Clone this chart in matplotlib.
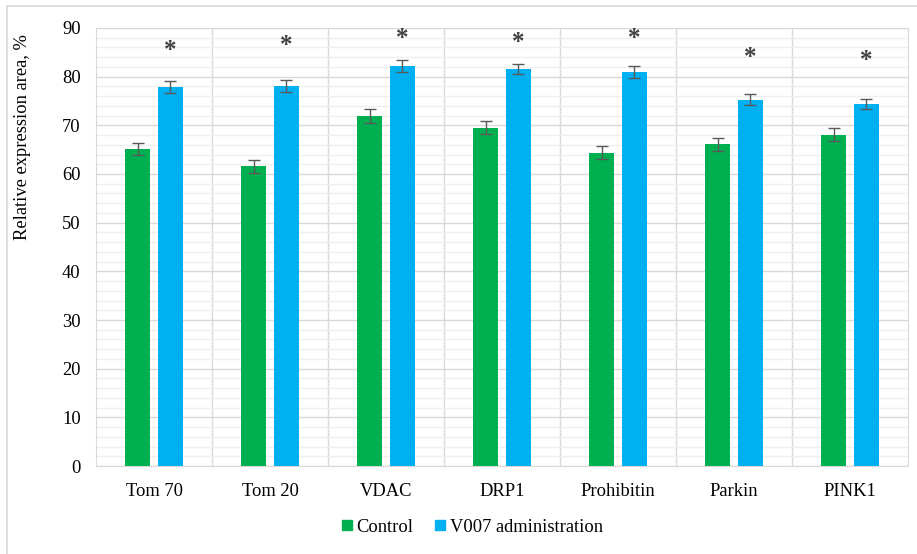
import numpy as np
import matplotlib.pyplot as plt
from matplotlib.lines import Line2D

plt.rcParams['font.family'] = ['Liberation Serif', 'DejaVu Serif']

# Данные
categories = ['Tom 70', 'Tom 20', 'VDAC', 'DRP1', 'Prohibitin', 'Parkin', 'PINK1']
control = [65.1, 61.6, 71.9, 69.5, 64.4, 66.1, 68.1]
control_err = [1.3, 1.3, 1.4, 1.3, 1.3, 1.3, 1.3]
v007 = [77.9, 78.1, 82.2, 81.6, 80.9, 75.3, 74.4]
v007_err = [1.2, 1.2, 1.3, 1.1, 1.2, 1.2, 1.1]
star_y = [85.3, 86.3, 87.8, 87.0, 87.8, 84.0, 83.3]

green = '#00b050'
blue = '#00b0f0'
grid_major = '#d9d9d9'
grid_minor = '#efefef'
fs = 13.3

fig = plt.figure(figsize=(9.17, 5.54), dpi=100)
ax = fig.add_axes([0.1047, 0.1588, 0.8855, 0.7907])

x = np.arange(len(categories))
w = 0.22
off = 0.142

ax.bar(x - off, control, width=w, color=green, zorder=3, label='Control')
ax.bar(x + off, v007, width=w, color=blue, zorder=3, label='V007 administration')
ax.errorbar(x - off, control, yerr=control_err, fmt='none', ecolor='#595959',
            elinewidth=1, capsize=4, capthick=1, zorder=4)
ax.errorbar(x + off, v007, yerr=v007_err, fmt='none', ecolor='#595959',
            elinewidth=1, capsize=4, capthick=1, zorder=4)

for xi, sy in zip(x, star_y):
    ax.text(xi + off, sy, '*', ha='center', va='center', fontsize=18,
            color='#404040', fontweight='bold')

ax.set_xlim(-0.5, len(categories) - 0.5)
ax.set_ylim(0, 90)
ax.set_yticks(np.arange(0, 91, 10))
ax.set_yticks(np.arange(0, 91, 2), minor=True)
ax.grid(axis='y', which='major', color=grid_major, linewidth=1, zorder=1)
ax.grid(axis='y', which='minor', color=grid_minor, linewidth=1, zorder=0)
for b in np.arange(0.5, len(categories) - 0.5, 1):
    ax.axvline(b, color=grid_major, linewidth=1, zorder=1)

ax.set_xticks(x)
ax.set_xticklabels(categories, fontsize=fs)
ax.tick_params(axis='x', length=0, pad=12)
ax.tick_params(axis='y', which='both', length=0, pad=11, labelsize=fs)
for s in ax.spines.values():
    s.set_color(grid_major)
ax.set_ylabel('Relative expression area, %', fontsize=fs)
ax.yaxis.set_label_coords(-0.080, 0.751)

handles = [Line2D([], [], marker='s', linestyle='none', color=green, markersize=7.5),
           Line2D([], [], marker='s', linestyle='none', color=blue, markersize=7.5)]
fig.legend(handles, ['Control', 'V007 administration'], loc='center',
           bbox_to_anchor=(470 / 917, 1 - 527 / 554), ncol=2, frameon=False,
           fontsize=fs, handletextpad=0.0, columnspacing=1.0, handlelength=1.0)

# рамка слева и сверху
fig.add_artist(Line2D([7 / 917, 7 / 917], [0, 1 - 6 / 554], color='#d9d9d9',
                      linewidth=1.2, transform=fig.transFigure))
fig.add_artist(Line2D([7 / 917, 1], [1 - 6 / 554, 1 - 6 / 554], color='#d9d9d9',
                      linewidth=1.2, transform=fig.transFigure))

fig.savefig('out.png', dpi=100)
